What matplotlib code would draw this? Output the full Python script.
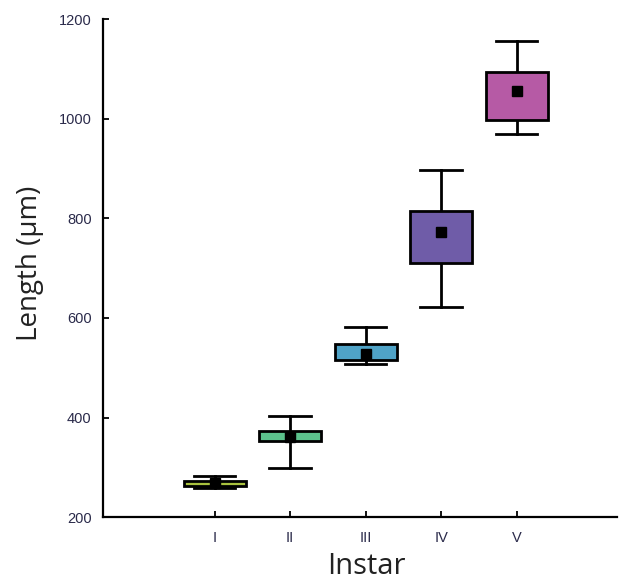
import matplotlib
matplotlib.use('Agg')
import matplotlib.pyplot as plt
from matplotlib.patches import Rectangle

# Instar body length summary
instars = ['I', 'II', 'III', 'IV', 'V']
whisker_low = [258, 299, 508, 623, 969]
box_low = [262, 353, 516, 710, 998]
mean_len = [268, 361, 527, 773, 1055]
box_high = [272, 373, 548, 814, 1094]
whisker_high = [283, 404, 582, 897, 1157]
colors = ['#a9c23f', '#5cc28c', '#4fa3c7', '#6f5ca8', '#b65aa5']

fig, ax = plt.subplots(figsize=(6.19, 5.83), dpi=100)
fig.subplots_adjust(left=0.166, right=0.997, top=0.967, bottom=0.113)

box_w = 0.82
cap_w = 0.55
for i, name in enumerate(instars):
    x = i + 1
    ax.plot([x, x], [whisker_low[i], whisker_high[i]], color='black', lw=2, zorder=1)
    for yv in (whisker_low[i], whisker_high[i]):
        ax.plot([x - cap_w / 2, x + cap_w / 2], [yv, yv], color='black', lw=2, zorder=1)
    ax.add_patch(Rectangle((x - box_w / 2, box_low[i]), box_w, box_high[i] - box_low[i],
                           facecolor=colors[i], edgecolor='black', lw=2, zorder=2))
    ax.plot(x, mean_len[i], marker='s', ms=7, color='black', ls='none', zorder=3)

ax.set_xlim(-0.48, 6.33)
ax.set_ylim(200, 1200)
ax.set_xticks(range(1, 6))
ax.set_xticklabels(instars)
ax.set_yticks(range(200, 1201, 200))
for s in ('top', 'right'):
    ax.spines[s].set_visible(False)
for s in ('left', 'bottom'):
    ax.spines[s].set_linewidth(1.6)
ax.tick_params(direction='in', length=4, width=1.3, labelsize=10.5, labelcolor='#2a2a4a', pad=8)
ax.tick_params(axis='x', pad=10)
for lbl in ax.get_xticklabels() + ax.get_yticklabels():
    lbl.set_family('Liberation Sans')

ax.set_ylabel('Length (µm)', fontsize=20, family='Open Sans', color='#222222', labelpad=10)
ax.yaxis.set_label_coords(-0.115, 0.51)
ax.set_xlabel('Instar', fontsize=21, family='Open Sans', color='#222222', labelpad=6)
ax.xaxis.set_label_coords(0.513, -0.07)

fig.savefig('out.png', dpi=100)
